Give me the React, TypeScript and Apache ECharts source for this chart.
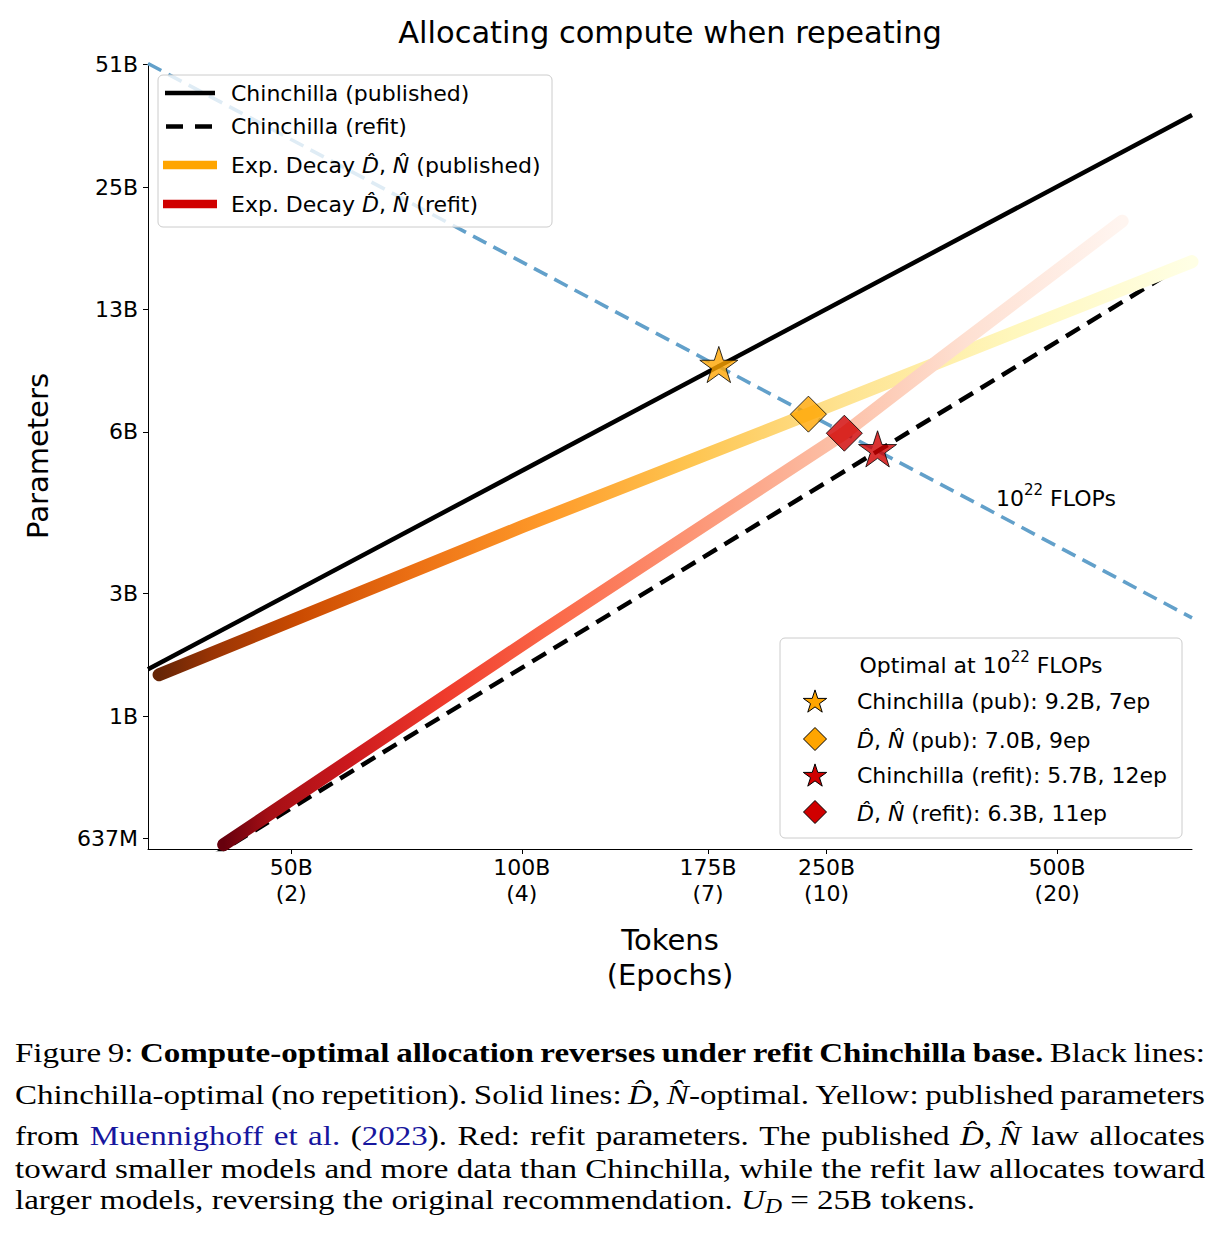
import React, { useEffect, useRef } from "react";
import * as echarts from "echarts";

const SANS = "DejaVu Sans";
const SERIF = "Liberation Serif";

// Size of the unique dataset (one epoch)
const UNIQUE_TOKENS = 25e9;

// Axis extents (tokens, parameters)
const tokenRange = [32.5e9, 750e9];
const paramRange = [6.0e8, 5.128e10];

// Tick positions
const xTickTokens = [50e9, 100e9, 175e9, 250e9, 500e9];
const yTickParams = [6.37e8, 1.274e9, 2.548e9, 6.37e9, 1.274e10, 2.548e10, 5.096e10];

// Curves as [tokens, parameters]
const isoFlopLine = [
  [32.5e9, 51.28e9],
  [750e9, 2.222e9],
];
const chinchillaPublished = [
  [32.5e9, 1.66e9],
  [750e9, 38.3e9],
];
const chinchillaRefit = [
  [32.5e9, 0.461e9],
  [750e9, 16.9e9],
];
const decayPublished = [
  [33.6e9, 1.61e9],
  [100e9, 3.72e9],
  [236.7e9, 7.04e9],
  [750e9, 16.7e9],
];
const decayRefit = [
  [40.8e9, 0.615e9],
  [105.6e9, 2.04e9],
  [263.7e9, 6.32e9],
  [351e9, 9.58e9],
  [608e9, 21.0e9],
];

// Compute-optimal points on the 10^22 FLOP line
const optimaNames = ["Chinchilla (pub)", "D̂,N̂ (pub)", "Chinchilla (refit)", "D̂,N̂ (refit)"];
const optimaTokens = [180.8e9, 236.7e9, 291.4e9, 263.7e9];
const optimaParams = [9.22e9, 7.04e9, 5.72e9, 6.32e9];
const optimaShapes = ["star", "diamond", "star", "diamond"];

const ORANGE = "#FFA500";
const RED = "#D00000";
const FLOP_BLUE = "#62A0CA";
const FLOP_TEXT = "#1F77B4";

// colour ramps along the exp-decay curves (dark at few tokens, pale at many)
const orangeRamp: [number, string][] = [
  [0, "#662506"], [0.051, "#993404"], [0.138, "#cc4c02"], [0.246, "#ec7014"],
  [0.372, "#fe9929"], [0.511, "#fec44f"], [0.663, "#fee391"], [0.826, "#fff7bc"], [1, "#ffffe5"],
];
const redRamp: [number, string][] = [
  [0, "#67000d"], [0.051, "#a50f15"], [0.138, "#cb181d"], [0.246, "#ef3b2c"],
  [0.372, "#fb6a4a"], [0.511, "#fc9272"], [0.663, "#fcbba1"], [0.826, "#fee0d2"], [1, "#fff5f0"],
];

type Seg = { t: string; s?: "b" | "i" | "link" | "sub" };
const captionLines: Seg[][] = [
  [{ t: "Figure 9: " }, { t: "Compute-optimal allocation reverses under refit Chinchilla base.", s: "b" }, { t: " Black lines:" }],
  [{ t: "Chinchilla-optimal (no repetition). Solid lines: " }, { t: "D̂", s: "i" }, { t: ",\u2009" }, { t: "N̂", s: "i" }, { t: "-optimal. Yellow: published parameters" }],
  [{ t: "from " }, { t: "Muennighoff et al.", s: "link" }, { t: " (" }, { t: "2023", s: "link" }, { t: "). Red: refit parameters. The published " }, { t: "D̂", s: "i" }, { t: ",\u2009" }, { t: "N̂", s: "i" }, { t: " law allocates" }],
  [{ t: "toward smaller models and more data than Chinchilla, while the refit law allocates toward" }],
  [{ t: "larger models, reversing the original recommendation. " }, { t: "U", s: "i" }, { t: "D", s: "sub" }, { t: " = 25B tokens." }],
];
const captionJustify = [true, true, true, true, false];
const captionCenters = [1053, 1094.5, 1135.5, 1168.5, 1200];

const starPolygon = (cx: number, cy: number, R: number) =>
  Array.from({ length: 10 }, (_, k) => {
    const a = -Math.PI / 2 + (k * Math.PI) / 5;
    const r = k % 2 ? R * 0.382 : R;
    return [cx + r * Math.cos(a), cy + r * Math.sin(a)];
  });

const STAR_SYMBOL =
  "path://M" +
  starPolygon(50, 50, 50)
    .map((p) => `${p[0].toFixed(2)} ${p[1].toFixed(2)}`)
    .join(" L") +
  " Z";

const gradient = (ramp: [number, string][]) =>
  new echarts.graphic.LinearGradient(0, 0, 1, 0, ramp.map(([offset, color]) => ({ offset, color })));

// Justified caption: each word placed with measured widths, glyphs widened a little
function captionElements(): any[] {
  const size = 28;
  const widen = 1.18;
  const ctx = document.createElement("canvas").getContext("2d")!;
  const styleOf = (s?: string) => ({
    fontStyle: s === "i" || s === "sub" ? "italic" : "normal",
    fontWeight: s === "b" ? "bold" : "normal",
    fontSize: s === "sub" ? 20 : size,
  });
  const measure = (seg: Seg) => {
    const st = styleOf(seg.s);
    ctx.font = `${st.fontStyle} ${st.fontWeight} ${st.fontSize}px "${SERIF}"`;
    return ctx.measureText(seg.t).width * widen;
  };
  ctx.font = `normal normal ${size}px "${SERIF}"`;
  const spaceW = ctx.measureText(" ").width * widen;
  const left = 15;
  const right = 1205;
  const out: any[] = [];
  captionLines.forEach((line, li) => {
    const words: Seg[][] = [[]];
    line.forEach((seg) => {
      seg.t.split(" ").forEach((part, i) => {
        if (i > 0) words.push([]);
        if (part) words[words.length - 1].push({ t: part, s: seg.s });
      });
    });
    const ws = words.filter((w) => w.length);
    const widths = ws.map((w) => w.reduce((a, seg) => a + measure(seg), 0));
    const total = widths.reduce((a, b) => a + b, 0);
    const gap = captionJustify[li] && ws.length > 1 ? (right - left - total) / (ws.length - 1) : spaceW;
    let x = left;
    const mid = captionCenters[li];
    ws.forEach((w) => {
      w.forEach((seg) => {
        const st = styleOf(seg.s);
        out.push({
          type: "text",
          x,
          y: seg.s === "sub" ? mid + 7 : mid,
          scaleX: widen,
          silent: true,
          z: 20,
          style: {
            text: seg.t,
            fontFamily: SERIF,
            ...st,
            fill: seg.s === "link" ? "#17179E" : "#000",
            textAlign: "left",
            align: "left",
            textVerticalAlign: "middle",
            verticalAlign: "middle",
          },
        });
        x += measure(seg);
      });
      x += gap;
    });
  });
  return out;
}

function textEl(x: number, y: number, text: string, size: number, extra: any = {}, align = "left") {
  return {
    type: "text",
    x,
    y,
    silent: true,
    z: 20,
    style: {
      text,
      fontFamily: SANS,
      fontSize: size,
      fill: "#000",
      textAlign: align,
      align,
      textVerticalAlign: "middle",
      verticalAlign: "middle",
      ...extra,
    },
  };
}

const richMath = (size: number, color = "#000") => ({
  n: { fontFamily: SANS, fontSize: size, color, lineHeight: size + 5, verticalAlign: "bottom" },
  i: { fontFamily: SANS, fontSize: size, fontStyle: "italic", color, lineHeight: size + 5, verticalAlign: "bottom" },
  sup: { fontFamily: SANS, fontSize: Math.round(size * 0.7), color, lineHeight: size + 5, verticalAlign: "top" },
});

function buildOption(): any {
  const fs = 22;
  const fmtParams = (v: number) => (v < 1e9 ? `${Math.round(v / 1e6)}M` : `${Math.round(v / 1e9)}B`);
  const fmtTokens = (v: number) => `${Math.round(v / 1e9)}B\n(${Math.round(v / UNIQUE_TOKENS)})`;

  const markerColors = [ORANGE, ORANGE, RED, RED];
  const scatterData = optimaTokens.map((t, i) => ({
    value: [t, optimaParams[i]],
    symbol: optimaShapes[i] === "star" ? STAR_SYMBOL : "diamond",
    symbolSize: optimaShapes[i] === "star" ? 38 : 36,
    symbolOffset: optimaShapes[i] === "star" ? [0, -2] : [0, 0],
    itemStyle: { color: markerColors[i], borderColor: "#000", borderWidth: 1 },
  }));

  // upper-left legend
  const legend1: any[] = [
    { type: "rect", silent: true, z: 15, shape: { x: 158, y: 75, width: 394, height: 152, r: 5 }, style: { fill: "rgba(255,255,255,0.8)", stroke: "#cccccc", lineWidth: 1 } },
    { type: "line", silent: true, z: 20, shape: { x1: 165, y1: 93, x2: 215, y2: 93 }, style: { stroke: "#000", lineWidth: 4.5 } },
    { type: "line", silent: true, z: 20, shape: { x1: 166, y1: 126.5, x2: 212, y2: 126.5 }, style: { stroke: "#000", lineWidth: 4.5, lineDash: [17, 12] } },
    { type: "line", silent: true, z: 20, shape: { x1: 163, y1: 165, x2: 217, y2: 165 }, style: { stroke: ORANGE, lineWidth: 8.5 } },
    { type: "line", silent: true, z: 20, shape: { x1: 163, y1: 204, x2: 217, y2: 204 }, style: { stroke: RED, lineWidth: 8.5 } },
    textEl(231, 93, "Chinchilla (published)", fs),
    textEl(231, 126.5, "Chinchilla (refit)", fs),
    textEl(231, 163, "{n|Exp. Decay }{i|D̂}{n|, }{i|N̂}{n| (published)}", fs, { rich: richMath(fs) }),
    textEl(231, 202, "{n|Exp. Decay }{i|D̂}{n|, }{i|N̂}{n| (refit)}", fs, { rich: richMath(fs) }),
  ];

  // lower-right legend with the optima
  const rowY = [701, 739, 775, 812];
  const legend2: any[] = [
    { type: "rect", silent: true, z: 15, shape: { x: 780, y: 638, width: 402, height: 200, r: 5 }, style: { fill: "rgba(255,255,255,0.8)", stroke: "#cccccc", lineWidth: 1 } },
    textEl(981, 663, "{n|Optimal at 10}{sup|22}{n| FLOPs}", fs, { rich: richMath(fs) }, "center"),
  ];
  optimaNames.forEach((name, i) => {
    const y = rowY[i];
    if (optimaShapes[i] === "star") {
      legend2.push({ type: "polygon", silent: true, z: 20, shape: { points: starPolygon(815, y + 1.2, 12.3) }, style: { fill: markerColors[i], stroke: "#000", lineWidth: 1 } });
    } else {
      legend2.push({ type: "polygon", silent: true, z: 20, shape: { points: [[815, y - 11.5], [826.5, y], [815, y + 11.5], [803.5, y]] }, style: { fill: markerColors[i], stroke: "#000", lineWidth: 1 } });
    }
    const suffix = `${(optimaParams[i] / 1e9).toFixed(1)}B, ${Math.round(optimaTokens[i] / UNIQUE_TOKENS)}ep`;
    if (name.startsWith("D̂")) {
      const rest = name.slice(name.indexOf(" ")) + ": " + suffix;
      legend2.push(textEl(857, y - 1, `{i|D̂}{n|, }{i|N̂}{n|${rest}}`, fs, { rich: richMath(fs) }));
    } else {
      legend2.push(textEl(857, y, `${name}: ${suffix}`, fs));
    }
  });

  const graphic: any[] = [
    textEl(670, 32, "Allocating compute when repeating", 30.5, {}, "center"),
    { ...textEl(38, 456, "Parameters", 29, {}, "center"), rotation: Math.PI / 2 },
    textEl(670, 957, "Tokens\n(Epochs)", 29, { lineHeight: 35 }, "center"),
    textEl(996, 496, "{n|10}{sup|22}{n| FLOPs}", fs, { rich: richMath(fs, FLOP_TEXT) }),
    ...legend1,
    ...legend2,
    ...captionElements(),
  ];

  const curve = (name: string, data: number[][], lineStyle: any, z = 2) => ({
    name,
    type: "line",
    data,
    symbol: "none",
    silent: true,
    lineStyle,
    z,
  });

  return {
    animation: false,
    backgroundColor: "#fff",
    grid: { left: 148, top: 63.5, width: 1044, height: 785.5, containLabel: false },
    xAxis: {
      type: "log",
      logBase: 10,
      min: tokenRange[0],
      max: tokenRange[1],
      axisLine: { show: true, lineStyle: { color: "#000", width: 1 } },
      axisTick: { show: true, customValues: xTickTokens, length: 5, lineStyle: { color: "#000", width: 1 } },
      axisLabel: {
        customValues: xTickTokens,
        formatter: fmtTokens,
        fontFamily: SANS,
        fontSize: fs,
        color: "#000",
        lineHeight: 26,
        margin: 5,
      },
      splitLine: { show: false },
      minorTick: { show: false },
    },
    yAxis: {
      type: "log",
      logBase: 10,
      min: paramRange[0],
      max: paramRange[1],
      axisLine: { show: true, lineStyle: { color: "#000", width: 1 } },
      axisTick: { show: true, customValues: yTickParams, length: 5, lineStyle: { color: "#000", width: 1 } },
      axisLabel: {
        customValues: yTickParams,
        formatter: fmtParams,
        fontFamily: SANS,
        fontSize: fs,
        color: "#000",
        margin: 10,
      },
      splitLine: { show: false },
      minorTick: { show: false },
    },
    series: [
      curve("iso-FLOPs", isoFlopLine, { color: FLOP_BLUE, width: 3.6, type: [15, 8] }),
      curve("Chinchilla (published)", chinchillaPublished, { color: "#000", width: 4.5 }),
      curve("Chinchilla (refit)", chinchillaRefit, { color: "#000", width: 4.5, type: [16, 9] }),
      curve("Exp. Decay (published)", decayPublished, { color: gradient(orangeRamp), width: 13, cap: "round", join: "round" }, 3),
      curve("Exp. Decay (refit)", decayRefit, { color: gradient(redRamp), width: 13, cap: "round", join: "round" }, 3),
      {
        name: "Optima",
        type: "scatter",
        data: scatterData,
        symbolKeepAspect: true,
        silent: true,
        z: 5,
      },
    ],
    graphic,
  };
}

export default function App() {
  const ref = useRef<HTMLDivElement>(null);
  useEffect(() => {
    const chart = echarts.init(ref.current!, null, { renderer: "svg" });
    chart.setOption(buildOption());
    return () => chart.dispose();
  }, []);
  return (
    <div
      ref={ref}
      style={{ position: "absolute", left: 0, top: 0, width: 1222, height: 1237, background: "#fff" }}
    />
  );
}
